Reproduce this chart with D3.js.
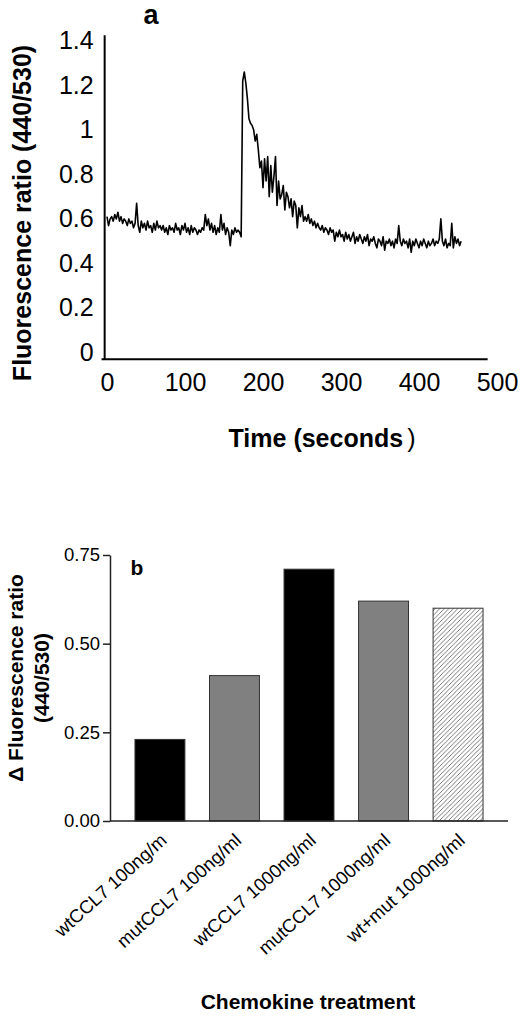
<!DOCTYPE html>
<html>
<head>
<meta charset="utf-8">
<script src="https://cdn.jsdelivr.net/npm/d3@7"></script>
<style>
  body { margin: 0; background: #fff; }
  text { font-family: "Liberation Sans", Arial, sans-serif; fill: #000; }
</style>
</head>
<body>
<svg id="fig" width="520" height="1016"></svg>
<script>
// ---- panel a : calcium trace, one reading every 2 s ----
const sampleStep = 2
// t = 0 .. 172 s
const ratioBaseline = [
  0.61, 0.57, 0.60, 0.61, 0.59, 0.62, 0.60, 0.63, 0.59, 0.61, 0.58, 0.60, 0.59, 0.57, 0.60, 0.58, 0.59, 0.56, 0.58, 0.67,
  0.57, 0.54, 0.59, 0.56, 0.58, 0.55, 0.59, 0.56, 0.57, 0.54, 0.58, 0.55, 0.59, 0.56, 0.57, 0.55, 0.57, 0.54, 0.56, 0.53,
  0.57, 0.55, 0.56, 0.54, 0.58, 0.55, 0.56, 0.53, 0.57, 0.55, 0.58, 0.54, 0.56, 0.53, 0.57, 0.54, 0.56, 0.55, 0.53, 0.55,
  0.54, 0.56, 0.55, 0.62, 0.57, 0.60, 0.55, 0.58, 0.54, 0.57, 0.53, 0.56, 0.54, 0.62, 0.55, 0.58, 0.53, 0.56, 0.54, 0.48,
  0.55, 0.53, 0.56, 0.54, 0.55, 0.54, 0.52
]
// t = 174 .. 300 s
const ratioResponse = [
  1.22, 1.26, 1.21, 1.14, 1.05, 1.03, 1.02, 1.00, 0.95, 0.98,
  0.91, 0.83, 0.86, 0.74, 0.87, 0.77, 0.88, 0.70, 0.84, 0.72,
  0.79, 0.88, 0.66, 0.77, 0.69, 0.71, 0.75, 0.64, 0.72, 0.70,
  0.65, 0.69, 0.61, 0.68, 0.66, 0.56, 0.65, 0.61, 0.66, 0.59,
  0.61, 0.59, 0.62, 0.58, 0.60, 0.57, 0.59, 0.56, 0.58, 0.56,
  0.55, 0.57, 0.54, 0.56, 0.55, 0.53, 0.56, 0.54, 0.55, 0.50,
  0.54, 0.52, 0.55, 0.52
]
// t = 302 .. 454 s
const ratioRecovery = [
  0.53, 0.50, 0.54, 0.51, 0.53, 0.50, 0.52, 0.54, 0.49, 0.52, 0.50, 0.53, 0.51, 0.49, 0.52, 0.50, 0.53, 0.48, 0.51, 0.50,
  0.52, 0.49, 0.47, 0.51, 0.50, 0.48, 0.52, 0.46, 0.50, 0.49, 0.51, 0.48, 0.50, 0.47, 0.51, 0.49, 0.57, 0.50, 0.48, 0.51,
  0.49, 0.50, 0.47, 0.51, 0.45, 0.50, 0.48, 0.51, 0.49, 0.47, 0.50, 0.48, 0.51, 0.49, 0.47, 0.50, 0.48, 0.49, 0.51, 0.48,
  0.50, 0.49, 0.51, 0.60, 0.50, 0.48, 0.51, 0.47, 0.49, 0.48, 0.58, 0.47, 0.52, 0.49, 0.51, 0.48, 0.50
]
const timeTicks = [0, 100, 200, 300, 400, 500]
const ratioTicks = [0, 0.2, 0.4, 0.6, 0.8, 1, 1.2, 1.4]

// ---- panel b : peak response per treatment ----
const treatments = ["wtCCL7 100ng/m", "mutCCL7 100ng/ml", "wtCCL7 1000ng/ml", "mutCCL7 1000ng/ml", "wt+mut 1000ng/ml"]
const deltaRatio = [0.23, 0.41, 0.71, 0.62, 0.60]
const deltaTicks = [0, 0.25, 0.5, 0.75]

const barFill = ["#000", "#808080", "#000", "#808080", "url(#hatch)"]

const svg = d3.select("#fig")

// hatch for the mixed treatment
svg.append("defs").append("pattern")
    .attr("id", "hatch")
    .attr("patternUnits", "userSpaceOnUse")
    .attr("width", 4.5).attr("height", 4.5)
  .call(p => p.append("rect").attr("width", 4.5).attr("height", 4.5).attr("fill", "#fff"))
  .append("path")
    .attr("d", "M0,4.5 L4.5,0 M-1,1 L1,-1 M3.5,5.5 L5.5,3.5")
    .attr("stroke", "#6a6a6a")
    .attr("stroke-width", 0.9)

// ================= panel a =================
const xA = d3.scaleLinear().domain([0, 500]).range([107, 497])
const yA = d3.scaleLinear().domain([0, 1.4]).range([352.5, 40.8])

const trace = [...ratioBaseline, ...ratioResponse, ...ratioRecovery]
    .map((v, i) => ({ t: i * sampleStep, v: v }))

const gA = svg.append("g")

// axis lines (Excel style, no tick marks)
gA.append("line")
    .attr("x1", xA(-3)).attr("x2", xA(-3))
    .attr("y1", yA(1.425)).attr("y2", yA(-0.03))
    .attr("stroke", "#000").attr("stroke-width", 2)
gA.append("line")
    .attr("x1", xA(-7)).attr("x2", xA(488))
    .attr("y1", yA(-0.03)).attr("y2", yA(-0.03))
    .attr("stroke", "#000").attr("stroke-width", 2)

gA.append("g")
    .attr("transform", `translate(${xA(-3)},0)`)
    .call(d3.axisLeft(yA).tickValues(ratioTicks).tickFormat(d => String(d)).tickSize(0).tickPadding(11))
    .call(g => g.select(".domain").remove())
    .selectAll("text")
    .attr("font-size", 25).attr("font-family", "Liberation Sans, Arial, sans-serif")

gA.append("g")
    .attr("transform", `translate(0,${yA(-0.03)})`)
    .call(d3.axisBottom(xA).tickValues(timeTicks).tickFormat(d => String(d)).tickSize(0).tickPadding(14))
    .call(g => g.select(".domain").remove())
    .selectAll("text")
    .attr("font-size", 25).attr("font-family", "Liberation Sans, Arial, sans-serif")

gA.append("path")
    .datum(trace)
    .attr("fill", "none")
    .attr("stroke", "#000")
    .attr("stroke-width", 1.6)
    .attr("stroke-linejoin", "round")
    .attr("d", d3.line().x(d => xA(d.t)).y(d => yA(d.v)))

gA.append("text")
    .attr("x", 151).attr("y", 24)
    .attr("text-anchor", "middle")
    .attr("font-size", 27).attr("font-weight", "bold")
    .text("a")

gA.append("text")
    .attr("transform", "translate(31,213) rotate(-90)")
    .attr("text-anchor", "middle")
    .attr("font-size", 25).attr("font-weight", "bold")
    .text("Fluorescence ratio (440/530)")

gA.append("text")
    .attr("x", 322).attr("y", 447)
    .attr("text-anchor", "middle")
    .attr("font-size", 25).attr("font-weight", "bold")
    .call(t => t.append("tspan").text("Time (seconds"))
    .call(t => t.append("tspan").attr("dx", 4).attr("font-weight", "normal").text(")"))

// ================= panel b =================
const xB = d3.scaleBand().domain(treatments).range([110, 508]).paddingInner(0.33).paddingOuter(0.335)
const yB = d3.scaleLinear().domain([0, 0.75]).range([821, 555])

const gB = svg.append("g")

gB.selectAll("rect.bar")
    .data(deltaRatio)
    .join("rect")
    .attr("class", "bar")
    .attr("x", (d, i) => xB(treatments[i]))
    .attr("y", d => yB(d))
    .attr("width", xB.bandwidth())
    .attr("height", d => yB(0) - yB(d))
    .attr("fill", (d, i) => barFill[i])
    .attr("stroke", "#333")
    .attr("stroke-width", 1)

gB.append("g")
    .attr("transform", `translate(${xB.range()[0]},0)`)
    .call(d3.axisLeft(yB).tickValues(deltaTicks).tickFormat(d3.format(".2f")).tickSize(7).tickSizeOuter(0).tickPadding(3))
    .call(g => g.selectAll("path, line").attr("stroke", "#222").attr("stroke-width", 1.5))
    .selectAll("text")
    .attr("font-size", 18.5).attr("font-family", "Liberation Sans, Arial, sans-serif")

gB.append("line")
    .attr("x1", xB.range()[0]).attr("x2", xB.range()[1])
    .attr("y1", yB(0)).attr("y2", yB(0))
    .attr("stroke", "#222").attr("stroke-width", 1.5)

gB.selectAll("text.cat")
    .data(treatments)
    .join("text")
    .attr("class", "cat")
    .attr("transform", d => `translate(${xB(d) + xB.bandwidth() / 2 + 8},${yB(0) + 21}) rotate(-42)`)
    .attr("text-anchor", "end")
    .attr("font-size", 18.5)
    .text(d => d)

gB.append("text")
    .attr("x", 137).attr("y", 575)
    .attr("text-anchor", "middle")
    .attr("font-size", 21).attr("font-weight", "bold")
    .text("b")

gB.append("text")
    .attr("transform", "translate(0,678) rotate(-90)")
    .attr("text-anchor", "middle")
    .attr("font-size", 21).attr("font-weight", "bold")
    .call(t => t.append("tspan").attr("x", 0).attr("y", 23).text("\u0394 Fluorescence ratio"))
    .call(t => t.append("tspan").attr("x", 0).attr("y", 49).text("(440/530)"))

gB.append("text")
    .attr("x", 308).attr("y", 1009)
    .attr("text-anchor", "middle")
    .attr("font-size", 21).attr("font-weight", "bold")
    .text("Chemokine treatment")
</script>
</body>
</html>
